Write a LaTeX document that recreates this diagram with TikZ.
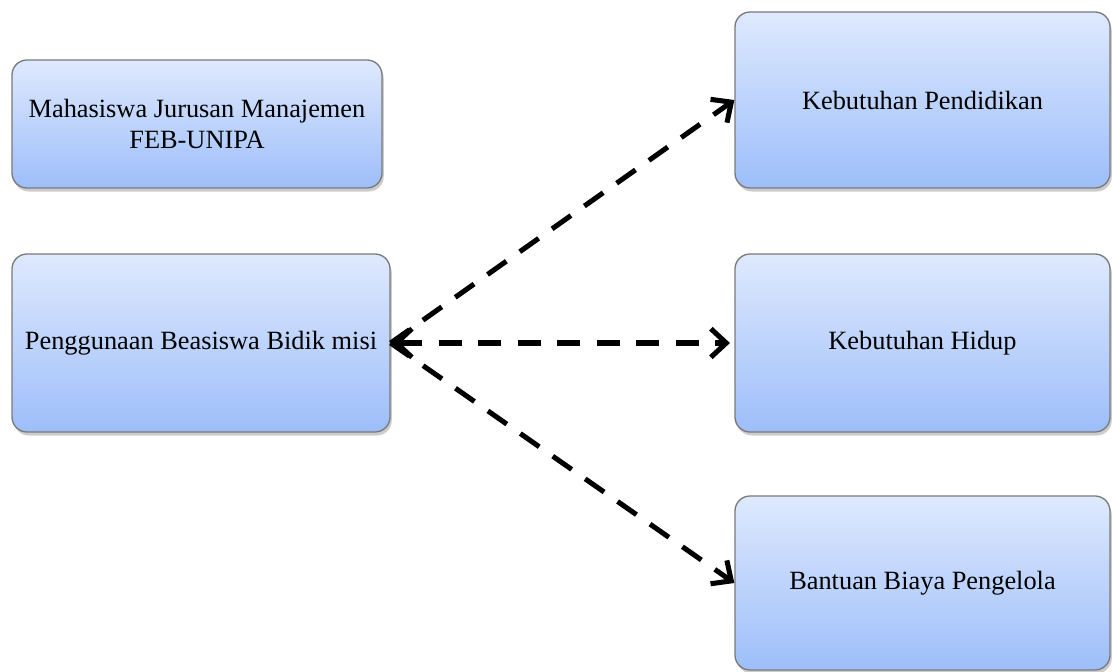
\documentclass[tikz,border=0pt]{standalone}
\usepackage{fontspec}
\setmainfont{Liberation Serif}
\usetikzlibrary{shadows,arrows.meta}
\definecolor{boxtop}{HTML}{DEE9FD}
\definecolor{boxbot}{HTML}{9DBEFA}
\definecolor{boxline}{HTML}{7A7A7A}
\tikzset{
    kotak/.style={rectangle, rounded corners=0.24cm, draw=boxline, line width=0.6pt,
        top color=boxtop, bottom color=boxbot, align=center, inner sep=2pt,
        font=\fontsize{12}{14}\selectfont,
        drop shadow={opacity=0.4, shadow xshift=0.8pt, shadow yshift=-1.6pt}},
    panah/.style={line width=2.3pt, dash pattern=on 10.5pt off 7.5pt,
        -{Straight Barb[length=7pt,width=13pt]}}
}
\begin{document}
\begin{tikzpicture}
        \useasboundingbox (0, 0) rectangle (17.792, 10.736);
        \node[kotak, minimum width=5.92cm, minimum height=2.048cm] (mhs) at (3.152, 8.752) {Mahasiswa Jurusan Manajemen\\FEB-UNIPA};
        \node[kotak, minimum width=6.048cm, minimum height=2.848cm] (beasiswa) at (3.216, 5.248) {Penggunaan Beasiswa Bidik misi};
        \node[kotak, minimum width=6cm, minimum height=2.816cm] (pendidikan) at (14.76, 9.136) {Kebutuhan Pendidikan};
        \node[kotak, minimum width=6cm, minimum height=2.848cm] (hidup) at (14.76, 5.248) {Kebutuhan Hidup};
        \node[kotak, minimum width=6cm, minimum height=2.784cm] (pengelola) at (14.76, 1.408) {Bantuan Biaya Pengelola};
        \draw[panah] (beasiswa.east) -- (pendidikan.west);
        \draw[panah, {Straight Barb[length=7pt,width=13pt]}-{Straight Barb[length=7pt,width=13pt]}] ([xshift=1pt]beasiswa.east) -- ([xshift=-2pt]hidup.west);
        \draw[panah] (beasiswa.east) -- (pengelola.west);
    \end{tikzpicture}
\end{document}
